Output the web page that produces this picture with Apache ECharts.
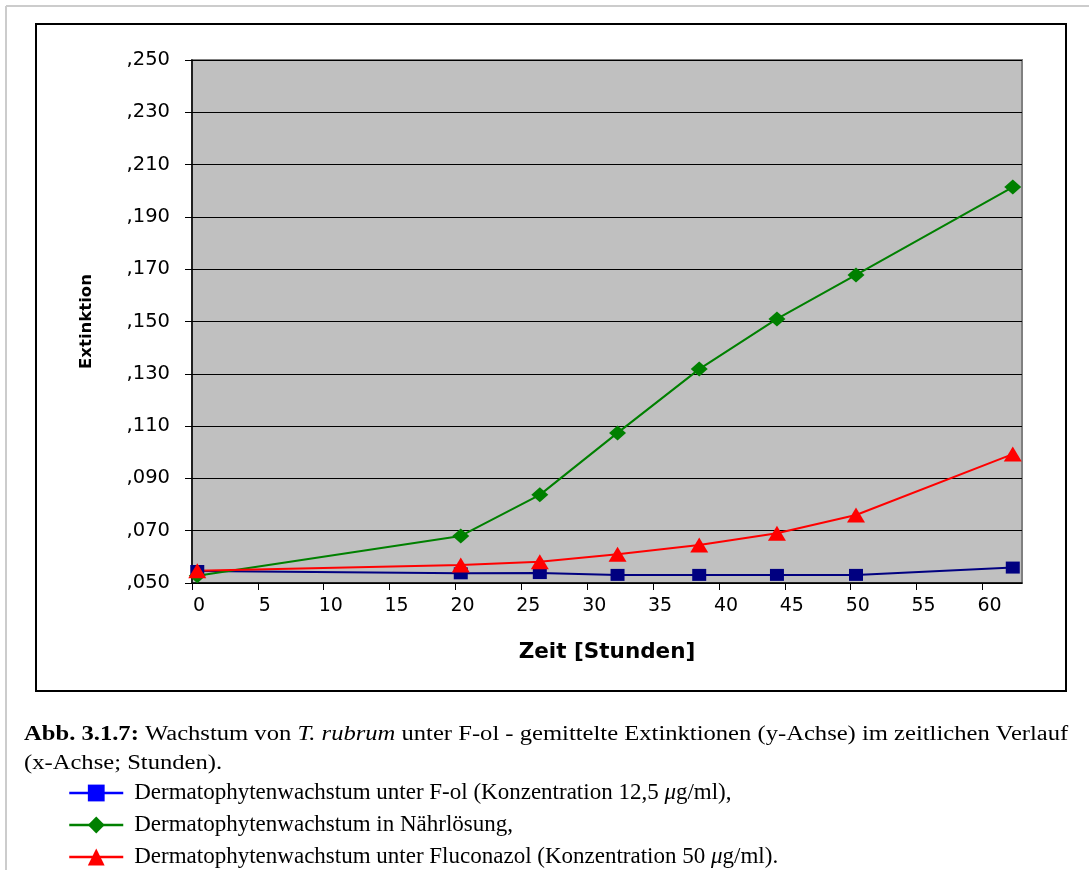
<!DOCTYPE html>
<html>
<head>
<meta charset="utf-8">
<script src="https://cdn.jsdelivr.net/npm/echarts@6/dist/echarts.min.js"></script>
<style>
  html, body { margin: 0; padding: 0; background: #fff; }
  #chart { width: 1089px; height: 870px; }
</style>
</head>
<body>
<div id="chart"></div>
<script>
// Zeitpunkte (Stunden)
var hours = [0.4, 20.4, 26.4, 32.3, 38.5, 44.4, 50.4, 62.3];
// gemittelte Extinktionen
var fol = [0.0546, 0.0537, 0.0538, 0.0531, 0.0531, 0.0531, 0.0531, 0.0559];
var naehr = [0.0528, 0.0680, 0.0837, 0.1074, 0.1318, 0.1510, 0.1678, 0.2014];
var fluco = [0.0547, 0.0569, 0.0581, 0.0610, 0.0645, 0.0690, 0.0760, 0.0993];
var seriesNames = [
  "Dermatophytenwachstum unter F-ol (Konzentration 12,5 μg/ml),",
  "Dermatophytenwachstum in Nährlösung,",
  "Dermatophytenwachstum unter Fluconazol (Konzentration 50 μg/ml)."
];

function pairs(vals) {
  return vals.map(function (v, i) { return [hours[i], v]; });
}

var sans = "DejaVu Sans, Liberation Sans, sans-serif";
var serif = "Liberation Serif, Times New Roman, serif";

var myChart = echarts.init(document.getElementById("chart"));
var option = {
  animation: false,
  grid: {
    left: 192, right: 67, top: 60, bottom: 287,
    show: true,
    backgroundColor: "#C0C0C0",
    borderColor: "#808080",
    borderWidth: 2
  },
  xAxis: {
    type: "value",
    min: 0, max: 63, interval: 5,
    name: "Zeit [Stunden]",
    nameLocation: "middle",
    nameGap: 58,
    nameTextStyle: { fontFamily: sans, fontSize: 21.5, fontWeight: "bold", color: "#000" },
    axisLine: { lineStyle: { color: "#000", width: 1.5 } },
    axisTick: { inside: false, length: 7, lineStyle: { color: "#000" } },
    axisLabel: {
      showMaxLabel: false,
      margin: 14,
      padding: [0, 0, 0, 14],
      fontFamily: sans, fontSize: 19, color: "#000"
    },
    splitLine: { show: false }
  },
  yAxis: {
    type: "value",
    min: 0.05, max: 0.25, interval: 0.02,
    name: "Extinktion",
    nameLocation: "middle",
    nameGap: 97,
    nameRotate: 90,
    nameTextStyle: { fontFamily: sans, fontSize: 16.5, fontWeight: "bold", color: "#000" },
    axisLine: { show: true, lineStyle: { color: "#000", width: 1.5 } },
    axisTick: { show: true, length: 7, lineStyle: { color: "#000" } },
    axisLabel: {
      margin: 22,
      fontFamily: sans, fontSize: 19.5, color: "#000",
      formatter: function (v) { return "," + Math.round(v * 1000).toString().padStart(3, "0"); }
    },
    splitLine: { show: true, lineStyle: { color: "#000", width: 1 } }
  },
  legend: {
    orient: "vertical",
    left: 63, top: 776,
    height: 94,
    itemWidth: 54, itemHeight: 21,
    itemGap: 8,
    textStyle: {
      fontFamily: serif, fontSize: 23, color: "#000", padding: [0, 0, 0, 6], lineHeight: 24,
      rich: { i: { fontFamily: serif, fontSize: 23, fontStyle: "italic", lineHeight: 24 } }
    },
    formatter: function (name) { return name.replace(/μ/g, "{i|μ}"); },
    data: [
      { name: seriesNames[0], itemStyle: { color: "#0000FF" }, lineStyle: { color: "#0000FF", width: 2.5 } },
      { name: seriesNames[1], lineStyle: { width: 2.5 } },
      { name: seriesNames[2], lineStyle: { width: 2.5 } }
    ]
  },
  graphic: [
    { type: "line", shape: { x1: 6, y1: 6, x2: 1089, y2: 6 }, style: { stroke: "#cccccc", lineWidth: 2 } },
    { type: "line", shape: { x1: 6, y1: 6, x2: 6, y2: 870 }, style: { stroke: "#cccccc", lineWidth: 2 } },
    { type: "rect", shape: { x: 36, y: 24, width: 1030, height: 667 }, style: { fill: null, stroke: "#000", lineWidth: 2 }, z: -1 },
    {
      type: "text", x: 24, y: 720, scaleX: 1.2,
      style: {
        text: "{b|Abb. 3.1.7:} Wachstum von {i|T. rubrum} unter F-ol - gemittelte Extinktionen (y-Achse) im zeitlichen Verlauf\n(x-Achse; Stunden).",
        fontFamily: serif, fontSize: 20.5, fill: "#000", lineHeight: 29,
        rich: {
          b: { fontFamily: serif, fontSize: 20.5, fontWeight: "bold", lineHeight: 29 },
          i: { fontFamily: serif, fontSize: 20.5, fontStyle: "italic", lineHeight: 29 }
        }
      }
    }
  ],
  series: [
    {
      name: seriesNames[0], type: "line", data: pairs(fol),
      symbol: "rect", symbolSize: [14, 12],
      lineStyle: { color: "#000080", width: 2 },
      itemStyle: { color: "#000080" }
    },
    {
      name: seriesNames[1], type: "line", data: pairs(naehr),
      symbol: "diamond", symbolSize: [17, 15],
      lineStyle: { color: "#008000", width: 2 },
      itemStyle: { color: "#008000" }
    },
    {
      name: seriesNames[2], type: "line", data: pairs(fluco),
      symbol: "triangle", symbolSize: [18, 15],
      lineStyle: { color: "#FF0000", width: 2 },
      itemStyle: { color: "#FF0000" }
    }
  ]
};
myChart.setOption(option);
</script>
</body>
</html>
